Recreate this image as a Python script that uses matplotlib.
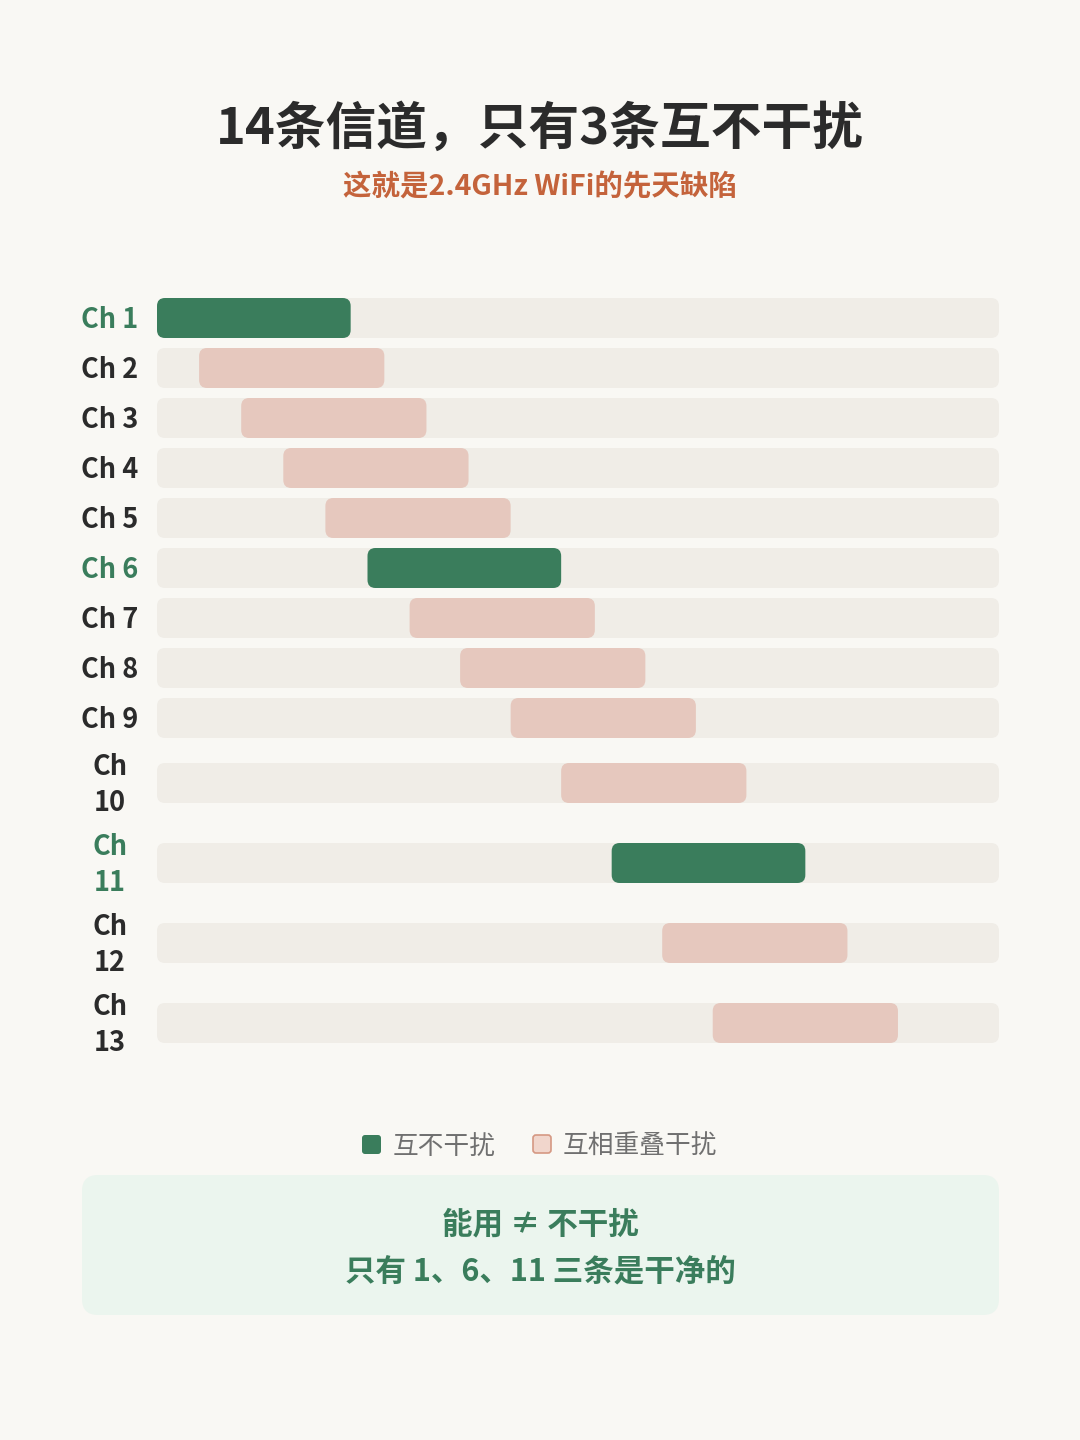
import matplotlib
matplotlib.use("Agg")
import matplotlib.pyplot as plt
from matplotlib.patches import FancyBboxPatch

plt.rcParams['font.family'] = ['Noto Sans CJK SC', 'DejaVu Sans']

# ---------------- data ----------------
channels = ["Ch 1", "Ch 2", "Ch 3", "Ch 4", "Ch 5", "Ch 6", "Ch 7",
            "Ch 8", "Ch 9", "Ch 10", "Ch 11", "Ch 12", "Ch 13"]
starts = [0, 5, 10, 15, 20, 25, 30, 36, 42, 48, 54, 60, 66]      # % of band
widths = [23, 22, 22, 22, 22, 23, 22, 22, 22, 22, 23, 22, 22]    # % of band
clean = [True, False, False, False, False, True, False,
         False, False, False, True, False, False]

title = "14条信道，只有3条互不干扰"
subtitle = "这就是2.4GHz WiFi的先天缺陷"
legend_labels = ["互不干扰", "互相重叠干扰"]
note_lines = ["能用 ≠ 不干扰", "只有 1、6、11 三条是干净的"]

# ---------------- style ----------------
BG = "#f9f8f4"
TRACK = "#f0ede7"
GREEN = "#3a7d5c"
PINK = "#e6c8be"
PINK_EDGE = "#d59883"
DARK = "#2b2b2b"
ORANGE = "#c4633b"
GRAY = "#707070"
NOTE_BG = "#ebf5ee"

W, H = 1080, 1440
fig = plt.figure(figsize=(W / 100, H / 100), dpi=100, facecolor=BG)

# chart axes: x = percent of band, y = pixel rows
ax_left, ax_right = 157, 999
ax_top, ax_bot = 290, 1060
ax = fig.add_axes([ax_left / W, 1 - ax_bot / H, (ax_right - ax_left) / W, (ax_bot - ax_top) / H])
ax.set_xlim(0, 100)
ax.set_ylim(ax_bot, ax_top)
ax.axis("off")
ax.patch.set_alpha(0)

px_per_unit = (ax_right - ax_left) / 100.0
bar_h = 40
radius_px = 8
aspect = px_per_unit

# row layout
y = 298
centers = []
labels_fmt = []
for name in channels:
    two_line = len(name) > 4
    row_h = 70 if two_line else 40
    centers.append(y + row_h / 2)
    labels_fmt.append(name.replace(" ", "\n") if two_line else name)
    y += row_h + 10


def rbar(x0, w, yc, color, ec="none", lw=0):
    p = FancyBboxPatch((x0, yc - bar_h / 2), w, bar_h,
                       boxstyle=f"round,pad=0,rounding_size={radius_px / px_per_unit}",
                       mutation_aspect=aspect, fc=color, ec=ec, lw=lw, clip_on=False)
    ax.add_patch(p)


for i, name in enumerate(channels):
    yc = centers[i]
    rbar(0, 100, yc, TRACK)
    rbar(starts[i], widths[i], yc, GREEN if clean[i] else PINK)
    col = GREEN if clean[i] else DARK
    lab = labels_fmt[i]
    if "\n" in lab:
        ax.text((110 - ax_left) / px_per_unit, yc + 2, lab, ha="center", va="center",
                multialignment="center", fontsize=19.5, fontweight="bold", color=col,
                linespacing=1.35, clip_on=False)
    else:
        ax.text((138 - ax_left) / px_per_unit, yc + 2, lab, ha="right", va="center",
                fontsize=19.5, fontweight="bold", color=col, clip_on=False)

# overlay axes for decorations in pixel coordinates
ov = fig.add_axes([0, 0, 1, 1])
ov.set_xlim(0, W)
ov.set_ylim(H, 0)
ov.axis("off")
ov.patch.set_alpha(0)

ov.text(540, 129, title, ha="center", va="center", fontsize=36.5, fontweight="bold", color=DARK)
ov.text(540, 187, subtitle, ha="center", va="center", fontsize=20.5, fontweight="bold", color=ORANGE)

# legend
ov.add_patch(FancyBboxPatch((362, 1135), 19, 19, boxstyle="round,pad=0,rounding_size=3",
                            fc=GREEN, ec="none"))
ov.text(393, 1147, legend_labels[0], ha="left", va="center", fontsize=18.5, color=GRAY)
ov.add_patch(FancyBboxPatch((533, 1135), 18, 18, boxstyle="round,pad=0,rounding_size=3",
                            fc="#f1d6cc", ec=PINK_EDGE, lw=1.2))
ov.text(563, 1147, legend_labels[1], ha="left", va="center", fontsize=18.5, color=GRAY)

# note box
ov.add_patch(FancyBboxPatch((82, 1175), 917, 140, boxstyle="round,pad=0,rounding_size=16",
                            fc=NOTE_BG, ec="none"))
ov.text(540, 1224, note_lines[0], ha="center", va="center", fontsize=22,
        fontweight="bold", color=GREEN)
ov.text(540, 1272, note_lines[1], ha="center", va="center", fontsize=22,
        fontweight="bold", color=GREEN)

fig.savefig("out.png", dpi=100, facecolor=BG)
